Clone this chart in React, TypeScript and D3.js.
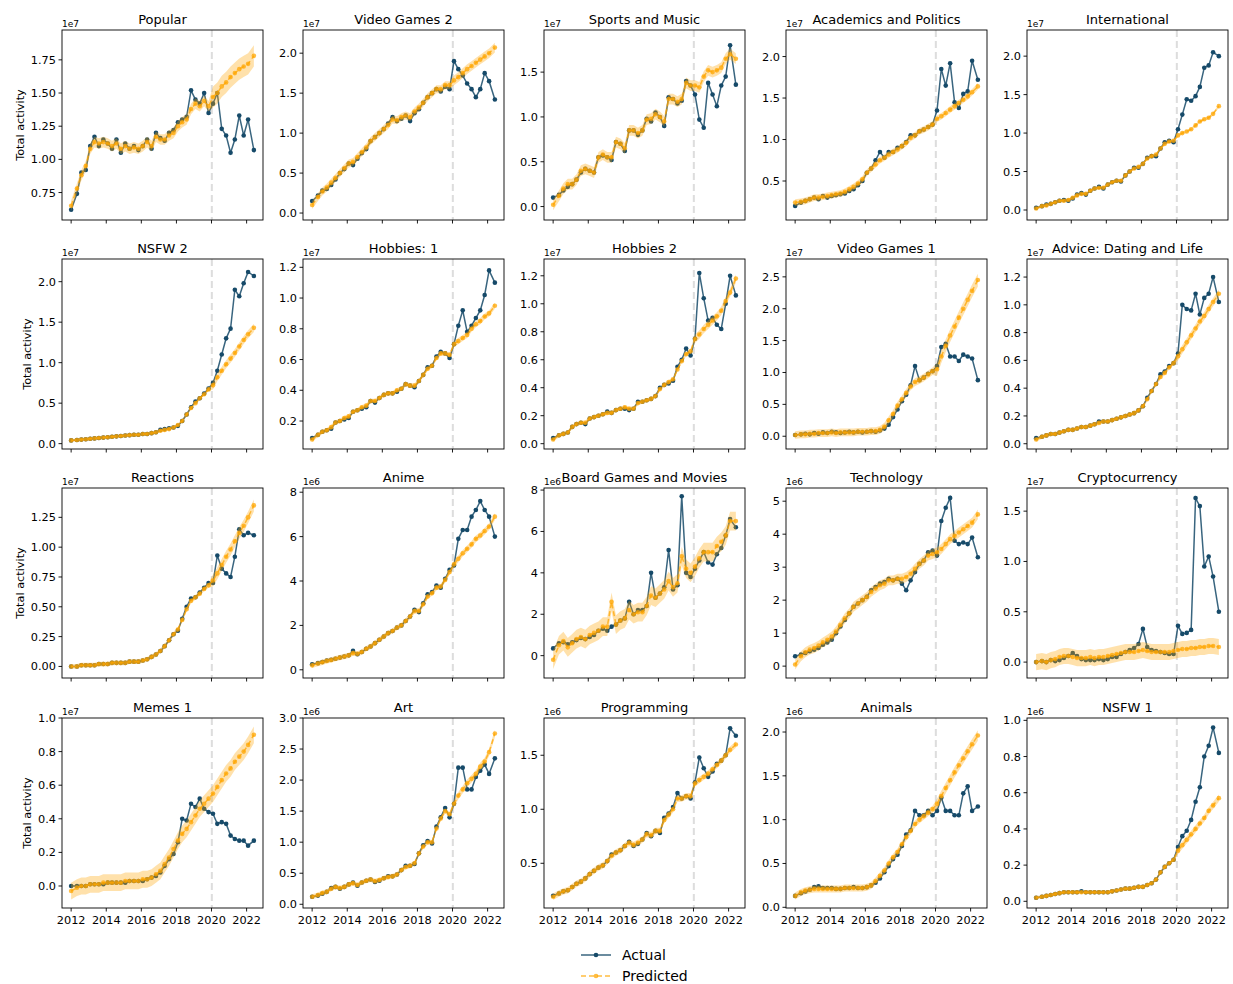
import * as d3 from 'd3'

// ── time axis (quarterly readings of the monthly series) ─────────────────────
const months = [
  '2012-01', '2012-05', '2012-08', '2012-11',
  '2013-02', '2013-05', '2013-08', '2013-11',
  '2014-02', '2014-05', '2014-08', '2014-11',
  '2015-02', '2015-05', '2015-08', '2015-11',
  '2016-02', '2016-05', '2016-08', '2016-11',
  '2017-02', '2017-05', '2017-08', '2017-11',
  '2018-02', '2018-05', '2018-08', '2018-11',
  '2019-02', '2019-05', '2019-08', '2019-11',
  '2020-02', '2020-05', '2020-08', '2020-11',
  '2021-02', '2021-05', '2021-08', '2021-11',
  '2022-02', '2022-06',
]
const splitDay = '2020-01-08'
const xTickYears = [2012, 2014, 2016, 2018, 2020, 2022]

// ── panels ──────────────────────────────────────────────────────────────────
const titles = [
  'Popular', 'Video Games 2', 'Sports and Music', 'Academics and Politics', 'International',
  'NSFW 2', 'Hobbies: 1', 'Hobbies 2', 'Video Games 1', 'Advice: Dating and Life',
  'Reactions', 'Anime', 'Board Games and Movies', 'Technology', 'Cryptocurrency',
  'Memes 1', 'Art', 'Programming', 'Animals', 'NSFW 1',
]
const exponents = [
  '1e7', '1e7', '1e7', '1e7', '1e7',
  '1e7', '1e7', '1e7', '1e7', '1e7',
  '1e7', '1e6', '1e6', '1e6', '1e7',
  '1e7', '1e6', '1e6', '1e6', '1e6',
]
const yTickLabels = [
  ['0.75', '1.00', '1.25', '1.50', '1.75'],
  ['0.0', '0.5', '1.0', '1.5', '2.0'],
  ['0.0', '0.5', '1.0', '1.5'],
  ['0.5', '1.0', '1.5', '2.0'],
  ['0.0', '0.5', '1.0', '1.5', '2.0'],
  ['0.0', '0.5', '1.0', '1.5', '2.0'],
  ['0.2', '0.4', '0.6', '0.8', '1.0', '1.2'],
  ['0.0', '0.2', '0.4', '0.6', '0.8', '1.0', '1.2'],
  ['0.0', '0.5', '1.0', '1.5', '2.0', '2.5'],
  ['0.0', '0.2', '0.4', '0.6', '0.8', '1.0', '1.2'],
  ['0.00', '0.25', '0.50', '0.75', '1.00', '1.25'],
  ['0', '2', '4', '6', '8'],
  ['0', '2', '4', '6', '8'],
  ['0', '1', '2', '3', '4', '5'],
  ['0.0', '0.5', '1.0', '1.5'],
  ['0.0', '0.2', '0.4', '0.6', '0.8', '1.0'],
  ['0.0', '0.5', '1.0', '1.5', '2.0', '2.5', '3.0'],
  ['0.5', '1.0', '1.5'],
  ['0.0', '0.5', '1.0', '1.5', '2.0'],
  ['0.0', '0.2', '0.4', '0.6', '0.8', '1.0'],
]
const yLimits: [number, number][] = [
  [0.543, 1.975], [-0.087, 2.29], [-0.15, 1.97], [0.03, 2.32], [-0.13, 2.34],
  [-0.066, 2.28], [0.018, 1.254], [-0.038, 1.32], [-0.2, 2.78], [-0.038, 1.33],
  [-0.097, 1.496], [-0.37, 8.19], [-1.08, 8.1], [-0.36, 5.4], [-0.158, 1.73],
  [-0.131, 1.0], [-0.06, 3.0], [0.086, 1.845], [-0.008, 2.16], [-0.037, 1.013],
]
// half-width of the prediction band [fit period, forecast period]
const bandWidths: [number, number][] = [
  [0.04, 0.08], [0.05, 0.06], [0.06, 0.06], [0.04, 0.04], [0.02, 0.02],
  [0.02, 0.05], [0.015, 0.02], [0.015, 0.03], [0.06, 0.1], [0.015, 0.03],
  [0.02, 0.05], [0.12, 0.15], [0.45, 0.45], [0.15, 0.15], [0.08, 0.08],
  [0.05, 0.05], [0.04, 0.06], [0.03, 0.03], [0.04, 0.06], [0.01, 0.02],
]

// ── series (panel units, see exponents) ──────────────────────────────────────
const popularActual = [
  0.62, 0.74, 0.90, 0.92, 1.10, 1.17, 1.10, 1.15, 1.12, 1.08, 1.15, 1.05,
  1.12, 1.08, 1.10, 1.07, 1.10, 1.15, 1.08, 1.20, 1.16, 1.14, 1.20, 1.22,
  1.28, 1.30, 1.32, 1.52, 1.45, 1.42, 1.50, 1.35, 1.42, 1.50, 1.23, 1.18,
  1.05, 1.15, 1.33, 1.18, 1.30, 1.07,
]
const popularPred = [
  0.65, 0.78, 0.88, 0.95, 1.08, 1.13, 1.12, 1.13, 1.12, 1.10, 1.12, 1.08,
  1.10, 1.08, 1.09, 1.08, 1.10, 1.13, 1.10, 1.17, 1.15, 1.15, 1.18, 1.20,
  1.25, 1.28, 1.30, 1.38, 1.42, 1.40, 1.44, 1.40, 1.47, 1.50, 1.55, 1.58,
  1.62, 1.65, 1.68, 1.70, 1.72, 1.78,
]
const vg2Actual = [
  0.15, 0.22, 0.28, 0.30, 0.35, 0.42, 0.50, 0.55, 0.62, 0.60, 0.68, 0.75,
  0.80, 0.90, 0.95, 1.00, 1.05, 1.12, 1.20, 1.15, 1.18, 1.22, 1.15, 1.25,
  1.30, 1.38, 1.45, 1.50, 1.55, 1.52, 1.58, 1.55, 1.90, 1.80, 1.72, 1.62,
  1.55, 1.45, 1.55, 1.75, 1.65, 1.42,
]
const vg2Pred = [
  0.10, 0.20, 0.27, 0.32, 0.38, 0.44, 0.50, 0.56, 0.62, 0.64, 0.70, 0.76,
  0.82, 0.90, 0.95, 1.00, 1.05, 1.10, 1.17, 1.16, 1.20, 1.22, 1.20, 1.27,
  1.32, 1.38, 1.45, 1.50, 1.55, 1.55, 1.60, 1.60, 1.66, 1.70, 1.75, 1.80,
  1.84, 1.88, 1.92, 1.96, 2.00, 2.07,
]
const sportsActual = [
  0.10, 0.13, 0.18, 0.22, 0.25, 0.30, 0.38, 0.42, 0.40, 0.38, 0.55, 0.57,
  0.55, 0.52, 0.72, 0.70, 0.62, 0.85, 0.85, 0.80, 0.85, 0.98, 0.95, 1.05,
  1.00, 0.90, 1.22, 1.20, 1.15, 1.18, 1.40, 1.35, 1.25, 0.97, 0.88, 1.38,
  1.25, 1.12, 1.35, 1.45, 1.80, 1.36,
]
const sportsPred = [
  0.02, 0.12, 0.20, 0.25, 0.25, 0.30, 0.40, 0.42, 0.40, 0.38, 0.55, 0.58,
  0.55, 0.55, 0.72, 0.70, 0.65, 0.85, 0.85, 0.82, 0.85, 0.97, 0.98, 1.03,
  1.00, 0.95, 1.20, 1.20, 1.17, 1.20, 1.38, 1.35, 1.35, 1.33, 1.45, 1.52,
  1.50, 1.52, 1.55, 1.65, 1.70, 1.65,
]
const academicsActual = [
  0.20, 0.24, 0.26, 0.28, 0.30, 0.28, 0.32, 0.30, 0.32, 0.33, 0.34, 0.35,
  0.38, 0.40, 0.45, 0.50, 0.60, 0.65, 0.75, 0.85, 0.78, 0.85, 0.85, 0.90,
  0.92, 0.97, 1.05, 1.05, 1.10, 1.12, 1.15, 1.18, 1.35, 1.85, 1.65, 1.92,
  1.45, 1.38, 1.55, 1.58, 1.95, 1.72,
]
const academicsPred = [
  0.24, 0.25, 0.26, 0.28, 0.30, 0.30, 0.31, 0.32, 0.33, 0.34, 0.35, 0.37,
  0.40, 0.43, 0.47, 0.52, 0.60, 0.65, 0.70, 0.75, 0.78, 0.82, 0.85, 0.88,
  0.92, 0.96, 1.02, 1.05, 1.10, 1.12, 1.15, 1.18, 1.25, 1.28, 1.32, 1.36,
  1.40, 1.44, 1.48, 1.52, 1.57, 1.64,
]
const intlActual = [
  0.03, 0.05, 0.07, 0.08, 0.10, 0.12, 0.13, 0.12, 0.15, 0.20, 0.22, 0.20,
  0.25, 0.28, 0.30, 0.28, 0.33, 0.36, 0.38, 0.37, 0.45, 0.50, 0.55, 0.55,
  0.60, 0.68, 0.70, 0.70, 0.80, 0.88, 0.90, 0.88, 1.05, 1.24, 1.44, 1.42,
  1.48, 1.60, 1.85, 1.88, 2.05, 2.00,
]
const intlPred = [
  0.02, 0.05, 0.06, 0.08, 0.10, 0.12, 0.12, 0.13, 0.16, 0.19, 0.21, 0.21,
  0.25, 0.28, 0.29, 0.29, 0.33, 0.36, 0.38, 0.38, 0.45, 0.50, 0.54, 0.56,
  0.60, 0.67, 0.70, 0.72, 0.80, 0.86, 0.89, 0.90, 0.97, 1.00, 1.02, 1.05,
  1.10, 1.15, 1.18, 1.20, 1.25, 1.35,
]
const nsfw2Actual = [
  0.04, 0.045, 0.05, 0.055, 0.06, 0.065, 0.07, 0.075, 0.08, 0.085, 0.09, 0.095,
  0.10, 0.105, 0.11, 0.11, 0.12, 0.12, 0.13, 0.14, 0.17, 0.18, 0.19, 0.20,
  0.22, 0.28, 0.36, 0.45, 0.52, 0.56, 0.62, 0.68, 0.75, 0.90, 1.10, 1.30,
  1.42, 1.90, 1.82, 1.98, 2.12, 2.07,
]
const nsfw2Pred = [
  0.04, 0.045, 0.05, 0.055, 0.06, 0.065, 0.07, 0.075, 0.08, 0.085, 0.09, 0.095,
  0.10, 0.105, 0.11, 0.11, 0.12, 0.12, 0.13, 0.14, 0.16, 0.17, 0.18, 0.20,
  0.23, 0.28, 0.36, 0.44, 0.50, 0.56, 0.61, 0.67, 0.72, 0.82, 0.90, 0.98,
  1.05, 1.12, 1.20, 1.28, 1.35, 1.43,
]
const hobbies1Actual = [
  0.09, 0.11, 0.13, 0.14, 0.15, 0.19, 0.20, 0.21, 0.22, 0.26, 0.27, 0.28,
  0.29, 0.33, 0.32, 0.35, 0.37, 0.38, 0.38, 0.39, 0.41, 0.44, 0.43, 0.42,
  0.46, 0.50, 0.55, 0.56, 0.62, 0.65, 0.64, 0.61, 0.70, 0.82, 0.92, 0.78,
  0.82, 0.87, 0.92, 1.02, 1.18, 1.10,
]
const hobbies1Pred = [
  0.08, 0.11, 0.13, 0.14, 0.16, 0.19, 0.20, 0.22, 0.23, 0.26, 0.27, 0.29,
  0.30, 0.33, 0.33, 0.35, 0.37, 0.38, 0.38, 0.40, 0.41, 0.44, 0.43, 0.43,
  0.46, 0.50, 0.54, 0.56, 0.61, 0.64, 0.64, 0.63, 0.70, 0.72, 0.74, 0.76,
  0.80, 0.83, 0.85, 0.88, 0.90, 0.95,
]
const hobbies2Actual = [
  0.04, 0.06, 0.07, 0.08, 0.12, 0.14, 0.15, 0.14, 0.18, 0.19, 0.20, 0.21,
  0.23, 0.22, 0.24, 0.25, 0.25, 0.24, 0.25, 0.30, 0.30, 0.31, 0.32, 0.34,
  0.40, 0.42, 0.43, 0.45, 0.55, 0.60, 0.68, 0.63, 0.75, 1.22, 1.04, 0.88,
  0.90, 0.85, 0.82, 1.00, 1.20, 1.06,
]
const hobbies2Pred = [
  0.03, 0.06, 0.07, 0.08, 0.12, 0.14, 0.15, 0.15, 0.18, 0.19, 0.20, 0.21,
  0.22, 0.22, 0.24, 0.25, 0.26, 0.25, 0.25, 0.29, 0.30, 0.31, 0.32, 0.34,
  0.39, 0.42, 0.44, 0.46, 0.53, 0.59, 0.64, 0.66, 0.75, 0.78, 0.82, 0.85,
  0.88, 0.91, 0.95, 1.02, 1.08, 1.18,
]
const vg1Actual = [
  0.02, 0.03, 0.04, 0.03, 0.05, 0.04, 0.06, 0.05, 0.07, 0.06, 0.05, 0.06,
  0.07, 0.06, 0.07, 0.06, 0.07, 0.08, 0.07, 0.09, 0.12, 0.18, 0.30, 0.42,
  0.55, 0.65, 0.80, 1.10, 0.88, 0.92, 0.98, 1.02, 1.10, 1.40, 1.45, 1.25,
  1.25, 1.18, 1.28, 1.25, 1.22, 0.88,
]
const vg1Pred = [
  0.02, 0.03, 0.03, 0.04, 0.04, 0.05, 0.05, 0.05, 0.06, 0.05, 0.06, 0.06,
  0.06, 0.06, 0.07, 0.07, 0.07, 0.08, 0.08, 0.10, 0.15, 0.25, 0.35, 0.48,
  0.58, 0.68, 0.78, 0.85, 0.88, 0.92, 0.97, 1.02, 1.05, 1.25, 1.42, 1.58,
  1.72, 1.86, 2.00, 2.14, 2.28, 2.45,
]
const adviceActual = [
  0.04, 0.05, 0.06, 0.07, 0.07, 0.08, 0.09, 0.10, 0.10, 0.11, 0.12, 0.12,
  0.13, 0.14, 0.16, 0.16, 0.16, 0.17, 0.18, 0.19, 0.20, 0.21, 0.22, 0.24,
  0.27, 0.33, 0.38, 0.43, 0.50, 0.52, 0.56, 0.58, 0.65, 1.00, 0.97, 0.96,
  1.08, 0.93, 1.05, 1.08, 1.20, 1.02,
]
const advicePred = [
  0.03, 0.05, 0.06, 0.07, 0.07, 0.08, 0.09, 0.10, 0.10, 0.11, 0.12, 0.12,
  0.13, 0.14, 0.15, 0.16, 0.16, 0.17, 0.18, 0.19, 0.20, 0.21, 0.22, 0.24,
  0.27, 0.32, 0.38, 0.43, 0.48, 0.51, 0.55, 0.58, 0.63, 0.68, 0.73, 0.78,
  0.83, 0.88, 0.92, 0.97, 1.02, 1.08,
]
const reactionsActual = [
  0.00, 0.00, 0.01, 0.01, 0.01, 0.01, 0.02, 0.02, 0.02, 0.03, 0.03, 0.03,
  0.03, 0.04, 0.04, 0.04, 0.05, 0.06, 0.08, 0.10, 0.13, 0.17, 0.22, 0.27,
  0.30, 0.40, 0.50, 0.57, 0.58, 0.62, 0.66, 0.70, 0.70, 0.93, 0.82, 0.78,
  0.75, 0.92, 1.15, 1.10, 1.12, 1.10,
]
const reactionsPred = [
  0.00, 0.00, 0.01, 0.01, 0.01, 0.01, 0.02, 0.02, 0.02, 0.03, 0.03, 0.03,
  0.03, 0.04, 0.04, 0.04, 0.05, 0.06, 0.08, 0.10, 0.13, 0.17, 0.22, 0.27,
  0.31, 0.39, 0.48, 0.55, 0.58, 0.61, 0.65, 0.68, 0.72, 0.78, 0.85, 0.92,
  0.98, 1.05, 1.12, 1.18, 1.25, 1.35,
]
const animeActual = [
  0.25, 0.30, 0.35, 0.42, 0.45, 0.50, 0.55, 0.60, 0.65, 0.85, 0.70, 0.80,
  0.95, 1.05, 1.20, 1.35, 1.50, 1.65, 1.75, 1.90, 2.00, 2.20, 2.40, 2.70,
  2.60, 3.00, 3.40, 3.50, 3.80, 3.70, 4.10, 4.50, 4.70, 5.90, 6.30, 6.30,
  6.90, 7.20, 7.60, 7.20, 6.90, 6.00,
]
const animePred = [
  0.20, 0.28, 0.34, 0.40, 0.44, 0.50, 0.55, 0.60, 0.65, 0.75, 0.72, 0.80,
  0.95, 1.05, 1.20, 1.35, 1.50, 1.65, 1.75, 1.90, 2.00, 2.20, 2.40, 2.65,
  2.65, 2.95, 3.30, 3.45, 3.70, 3.75, 4.05, 4.40, 4.75, 5.00, 5.25, 5.45,
  5.65, 5.90, 6.05, 6.25, 6.45, 6.90,
]
const boardActual = [
  0.35, 0.60, 0.65, 0.55, 0.65, 0.75, 0.85, 0.80, 0.90, 1.00, 1.20, 1.30,
  1.20, 1.40, 1.50, 1.70, 1.80, 2.60, 2.00, 2.20, 2.20, 2.40, 4.00, 2.80,
  3.00, 3.30, 5.10, 3.20, 3.40, 7.70, 4.00, 3.80, 4.20, 4.60, 5.00, 4.50,
  4.40, 4.90, 5.20, 5.80, 6.60, 6.20,
]
const boardPred = [
  -0.20, 0.50, 0.70, 0.40, 0.60, 0.80, 0.90, 0.80, 1.00, 1.10, 1.20, 1.40,
  1.40, 2.60, 1.50, 1.70, 1.80, 2.20, 2.00, 2.10, 2.10, 2.40, 2.90, 2.80,
  3.00, 3.20, 3.60, 3.30, 3.50, 4.80, 4.20, 4.00, 4.30, 4.70, 5.00, 5.00,
  5.00, 5.30, 5.50, 5.80, 6.50, 6.50,
]
const techActual = [
  0.30, 0.35, 0.40, 0.45, 0.50, 0.55, 0.65, 0.72, 0.80, 1.00, 1.20, 1.40,
  1.60, 1.80, 1.90, 2.00, 2.10, 2.30, 2.40, 2.50, 2.55, 2.65, 2.60, 2.65,
  2.50, 2.30, 2.60, 2.85, 3.10, 3.20, 3.45, 3.50, 3.35, 4.40, 4.80, 5.10,
  3.80, 3.70, 3.75, 3.70, 3.90, 3.30,
]
const techPred = [
  0.05, 0.30, 0.42, 0.50, 0.55, 0.62, 0.72, 0.80, 0.90, 1.05, 1.25, 1.45,
  1.60, 1.80, 1.90, 2.00, 2.10, 2.25, 2.35, 2.45, 2.50, 2.60, 2.60, 2.65,
  2.65, 2.70, 2.80, 2.95, 3.10, 3.20, 3.35, 3.40, 3.45, 3.55, 3.70, 3.85,
  3.95, 4.05, 4.15, 4.25, 4.35, 4.60,
]
const cryptoActual = [
  0.00, 0.01, 0.00, 0.02, 0.01, 0.02, 0.04, 0.06, 0.09, 0.06, 0.03, 0.02,
  0.02, 0.02, 0.03, 0.02, 0.03, 0.05, 0.05, 0.08, 0.10, 0.12, 0.14, 0.18,
  0.33, 0.15, 0.12, 0.11, 0.10, 0.09, 0.08, 0.08, 0.36, 0.28, 0.29, 0.32,
  1.63, 1.55, 0.95, 1.05, 0.85, 0.50,
]
const cryptoPred = [
  0.00, 0.01, 0.00, 0.02, 0.03, 0.05, 0.06, 0.06, 0.05, 0.04, 0.04, 0.04,
  0.05, 0.04, 0.05, 0.05, 0.06, 0.07, 0.08, 0.09, 0.10, 0.10, 0.10, 0.11,
  0.12, 0.11, 0.10, 0.10, 0.10, 0.10, 0.10, 0.11, 0.12, 0.13, 0.13, 0.14,
  0.14, 0.15, 0.15, 0.16, 0.16, 0.15,
]
const memesActual = [
  0.00, 0.00, 0.00, 0.00, 0.01, 0.01, 0.01, 0.01, 0.02, 0.02, 0.02, 0.02,
  0.02, 0.03, 0.03, 0.03, 0.03, 0.04, 0.05, 0.06, 0.08, 0.12, 0.16, 0.19,
  0.26, 0.40, 0.39, 0.49, 0.47, 0.52, 0.46, 0.44, 0.43, 0.37, 0.38, 0.37,
  0.30, 0.28, 0.27, 0.27, 0.24, 0.27,
]
const memesPred = [
  -0.03, -0.01, 0.00, 0.00, 0.01, 0.01, 0.01, 0.02, 0.02, 0.02, 0.02, 0.02,
  0.03, 0.03, 0.03, 0.03, 0.04, 0.04, 0.05, 0.07, 0.09, 0.13, 0.17, 0.22,
  0.27, 0.31, 0.34, 0.38, 0.42, 0.46, 0.49, 0.52, 0.55, 0.59, 0.63, 0.67,
  0.70, 0.74, 0.77, 0.80, 0.84, 0.90,
]
const artActual = [
  0.12, 0.14, 0.17, 0.20, 0.26, 0.28, 0.25, 0.28, 0.32, 0.35, 0.30, 0.35,
  0.38, 0.40, 0.36, 0.38, 0.42, 0.45, 0.45, 0.48, 0.55, 0.62, 0.62, 0.65,
  0.82, 0.95, 1.02, 0.98, 1.25, 1.40, 1.55, 1.40, 1.62, 2.20, 2.20, 1.85,
  1.85, 2.05, 2.15, 2.25, 2.10, 2.35,
]
const artPred = [
  0.12, 0.15, 0.18, 0.20, 0.25, 0.28, 0.26, 0.28, 0.32, 0.34, 0.31, 0.35,
  0.38, 0.40, 0.37, 0.39, 0.42, 0.44, 0.45, 0.48, 0.55, 0.60, 0.62, 0.66,
  0.82, 0.93, 1.00, 1.00, 1.22, 1.38, 1.50, 1.45, 1.62, 1.75, 1.85, 1.95,
  2.02, 2.10, 2.22, 2.30, 2.45, 2.75,
]
const progActual = [
  0.20, 0.22, 0.24, 0.25, 0.28, 0.31, 0.33, 0.36, 0.40, 0.43, 0.46, 0.48,
  0.52, 0.58, 0.60, 0.62, 0.66, 0.70, 0.66, 0.68, 0.72, 0.78, 0.75, 0.80,
  0.78, 0.92, 0.96, 1.02, 1.15, 1.10, 1.12, 1.10, 1.25, 1.48, 1.38, 1.30,
  1.35, 1.42, 1.45, 1.50, 1.75, 1.68,
]
const progPred = [
  0.19, 0.22, 0.24, 0.25, 0.28, 0.31, 0.33, 0.36, 0.40, 0.43, 0.46, 0.48,
  0.52, 0.57, 0.60, 0.62, 0.66, 0.69, 0.67, 0.69, 0.72, 0.77, 0.76, 0.80,
  0.80, 0.90, 0.95, 1.00, 1.10, 1.10, 1.12, 1.12, 1.24, 1.27, 1.30, 1.33,
  1.37, 1.41, 1.45, 1.50, 1.55, 1.60,
]
const animalsActual = [
  0.13, 0.16, 0.18, 0.20, 0.23, 0.24, 0.22, 0.22, 0.22, 0.21, 0.21, 0.22,
  0.22, 0.23, 0.22, 0.22, 0.23, 0.25, 0.28, 0.33, 0.40, 0.47, 0.55, 0.60,
  0.70, 0.83, 0.88, 1.10, 1.05, 1.05, 1.10, 1.05, 1.10, 1.25, 1.10, 1.10,
  1.05, 1.05, 1.30, 1.38, 1.10, 1.15,
]
const animalsPred = [
  0.13, 0.17, 0.19, 0.20, 0.21, 0.21, 0.21, 0.21, 0.21, 0.21, 0.21, 0.22,
  0.22, 0.22, 0.22, 0.22, 0.23, 0.25, 0.30, 0.36, 0.42, 0.50, 0.57, 0.63,
  0.72, 0.80, 0.87, 0.95, 1.00, 1.04, 1.08, 1.12, 1.18, 1.27, 1.36, 1.45,
  1.54, 1.62, 1.70, 1.78, 1.86, 1.96,
]
const nsfw1Actual = [
  0.020, 0.025, 0.030, 0.035, 0.040, 0.045, 0.050, 0.050, 0.050, 0.050, 0.055, 0.050,
  0.050, 0.050, 0.050, 0.050, 0.050, 0.055, 0.060, 0.065, 0.070, 0.070, 0.075, 0.080,
  0.080, 0.090, 0.100, 0.120, 0.160, 0.190, 0.210, 0.230, 0.300, 0.360, 0.390, 0.450,
  0.550, 0.630, 0.800, 0.860, 0.960, 0.820,
]
const nsfw1Pred = [
  0.020, 0.025, 0.030, 0.035, 0.040, 0.045, 0.050, 0.050, 0.050, 0.050, 0.050, 0.050,
  0.050, 0.050, 0.050, 0.050, 0.050, 0.055, 0.060, 0.065, 0.070, 0.070, 0.075, 0.080,
  0.080, 0.090, 0.100, 0.120, 0.160, 0.190, 0.210, 0.230, 0.280, 0.310, 0.340, 0.370,
  0.400, 0.430, 0.460, 0.500, 0.530, 0.570,
]

const actualSeries = [
  popularActual, vg2Actual, sportsActual, academicsActual, intlActual,
  nsfw2Actual, hobbies1Actual, hobbies2Actual, vg1Actual, adviceActual,
  reactionsActual, animeActual, boardActual, techActual, cryptoActual,
  memesActual, artActual, progActual, animalsActual, nsfw1Actual,
]
const predictedSeries = [
  popularPred, vg2Pred, sportsPred, academicsPred, intlPred,
  nsfw2Pred, hobbies1Pred, hobbies2Pred, vg1Pred, advicePred,
  reactionsPred, animePred, boardPred, techPred, cryptoPred,
  memesPred, artPred, progPred, animalsPred, nsfw1Pred,
]

// ── layout / style ───────────────────────────────────────────────────────────
const W = 1233
const H = 984
const COL_X = [62, 303, 544, 786, 1027]
const ROW_Y = [30, 259, 488, 718]
const PW = 201
const PH = 190
const FONT = '"DejaVu Sans", sans-serif'
const C_ACT = '#164a69'
const C_PRED = '#ffa500'
const C_SPLIT = '#dddddd'
const TICK_FS = 11.3

const parseMonth = d3.timeParse('%Y-%m')
const dates = months.map(m => parseMonth(m) as Date)
const split = d3.timeParse('%Y-%m-%d')(splitDay) as Date
const [t0, t1] = d3.extent(dates) as [Date, Date]
const tPad = (+t1 - +t0) * 0.05
const x = d3.scaleTime()
  .domain([new Date(+t0 - tPad), new Date(+t1 + tPad)])
  .range([0, PW])
const xTicks = xTickYears.map(yr => new Date(yr, 0, 1))

// rough DejaVu width of a tick label
const labelWidth = (s: string) =>
  [...s].reduce((w, ch) => w + (ch === '.' ? 0.318 : 0.636), 0) * TICK_FS

type Pt = { d: Date; a: number; p: number; b: number }

function Panel({ i }: { i: number }) {
  const col = i % 5
  const row = Math.floor(i / 5)
  const left = COL_X[col]
  const top = ROW_Y[row]
  const y = d3.scaleLinear().domain(yLimits[i]).range([PH, 0])
  const act = actualSeries[i]
  const pred = predictedSeries[i]
  const [bPre, bPost] = bandWidths[i]
  const pts: Pt[] = dates.map((d, k) => ({ d, a: act[k], p: pred[k], b: d < split ? bPre : bPost }))

  const band = d3.area<Pt>().x(o => x(o.d)).y0(o => y(o.p - o.b)).y1(o => y(o.p + o.b))
  const lineA = d3.line<Pt>().x(o => x(o.d)).y(o => y(o.a))
  const lineP = d3.line<Pt>().x(o => x(o.d)).y(o => y(o.p))
  const ticks = yTickLabels[i]
  const maxW = d3.max(ticks, labelWidth) ?? 0

  return (
    <g transform={`translate(${left},${top})`}>
      <line x1={x(split)} x2={x(split)} y1={0} y2={PH}
        stroke={C_SPLIT} strokeWidth={2} strokeDasharray="7,4" />

      {/* actual */}
      <path d={lineA(pts) ?? ''} fill="none" stroke={C_ACT} strokeWidth={1.5} strokeOpacity={0.85} />
      {pts.map((o, k) => (
        <circle key={`a${k}`} cx={x(o.d)} cy={y(o.a)} r={2.3} fill={C_ACT} />
      ))}

      {/* predicted */}
      <path d={band(pts) ?? ''} fill={C_PRED} fillOpacity={0.33} stroke="none" />
      <path d={lineP(pts) ?? ''} fill="none" stroke={C_PRED} strokeWidth={1.5}
        strokeOpacity={0.75} strokeDasharray="5,3" />
      {pts.map((o, k) => (
        <circle key={`p${k}`} cx={x(o.d)} cy={y(o.p)} r={2.3} fill={C_PRED} fillOpacity={0.75} />
      ))}

      {/* frame */}
      <rect x={0} y={0} width={PW} height={PH} fill="none" stroke="#000" strokeWidth={0.9} />

      {/* y axis */}
      {ticks.map(t => (
        <g key={t} transform={`translate(0,${y(+t)})`}>
          <line x1={-3.5} x2={0} stroke="#000" strokeWidth={0.9} />
          <text x={-6} dy="0.35em" textAnchor="end" fontSize={TICK_FS} fontFamily={FONT} fill="#000">{t}</text>
        </g>
      ))}
      <text x={0} y={-3} fontSize={9} fontFamily={FONT} fill="#000">{exponents[i]}</text>

      {/* x axis */}
      {xTicks.map((t, k) => (
        <g key={k} transform={`translate(${x(t)},${PH})`}>
          <line y1={0} y2={3.5} stroke="#000" strokeWidth={0.9} />
          {row === 3 && (
            <text y={16} textAnchor="middle" fontSize={TICK_FS} fontFamily={FONT} fill="#000">
              {xTickYears[k]}
            </text>
          )}
        </g>
      ))}

      <text x={PW / 2} y={-6} textAnchor="middle" fontSize={13} fontFamily={FONT} fill="#000">
        {titles[i]}
      </text>

      {col === 0 && (
        <text transform={`translate(${-6 - maxW - 7},${PH / 2}) rotate(-90)`}
          textAnchor="middle" fontSize={TICK_FS} fontFamily={FONT} fill="#000">
          Total activity
        </text>
      )}
    </g>
  )
}

export default function App() {
  return (
    <svg width={W} height={H} viewBox={`0 0 ${W} ${H}`}
      style={{ position: 'absolute', left: 0, top: 0, background: '#fff', display: 'block' }}>
      <rect width={W} height={H} fill="#fff" />
      {titles.map((_, i) => <Panel key={i} i={i} />)}

      {/* legend */}
      <g transform="translate(581,955)">
        <line x1={0} x2={30} stroke={C_ACT} strokeWidth={1.5} strokeOpacity={0.85} />
        <circle cx={15} cy={0} r={2.3} fill={C_ACT} />
        <text x={41} y={5} fontSize={14} fontFamily={FONT} fill="#000">Actual</text>
      </g>
      <g transform="translate(581,976)">
        <line x1={0} x2={30} stroke={C_PRED} strokeWidth={1.5} strokeOpacity={0.75} strokeDasharray="5,3" />
        <circle cx={15} cy={0} r={2.3} fill={C_PRED} fillOpacity={0.75} />
        <text x={41} y={5} fontSize={14} fontFamily={FONT} fill="#000">Predicted</text>
      </g>
    </svg>
  )
}
